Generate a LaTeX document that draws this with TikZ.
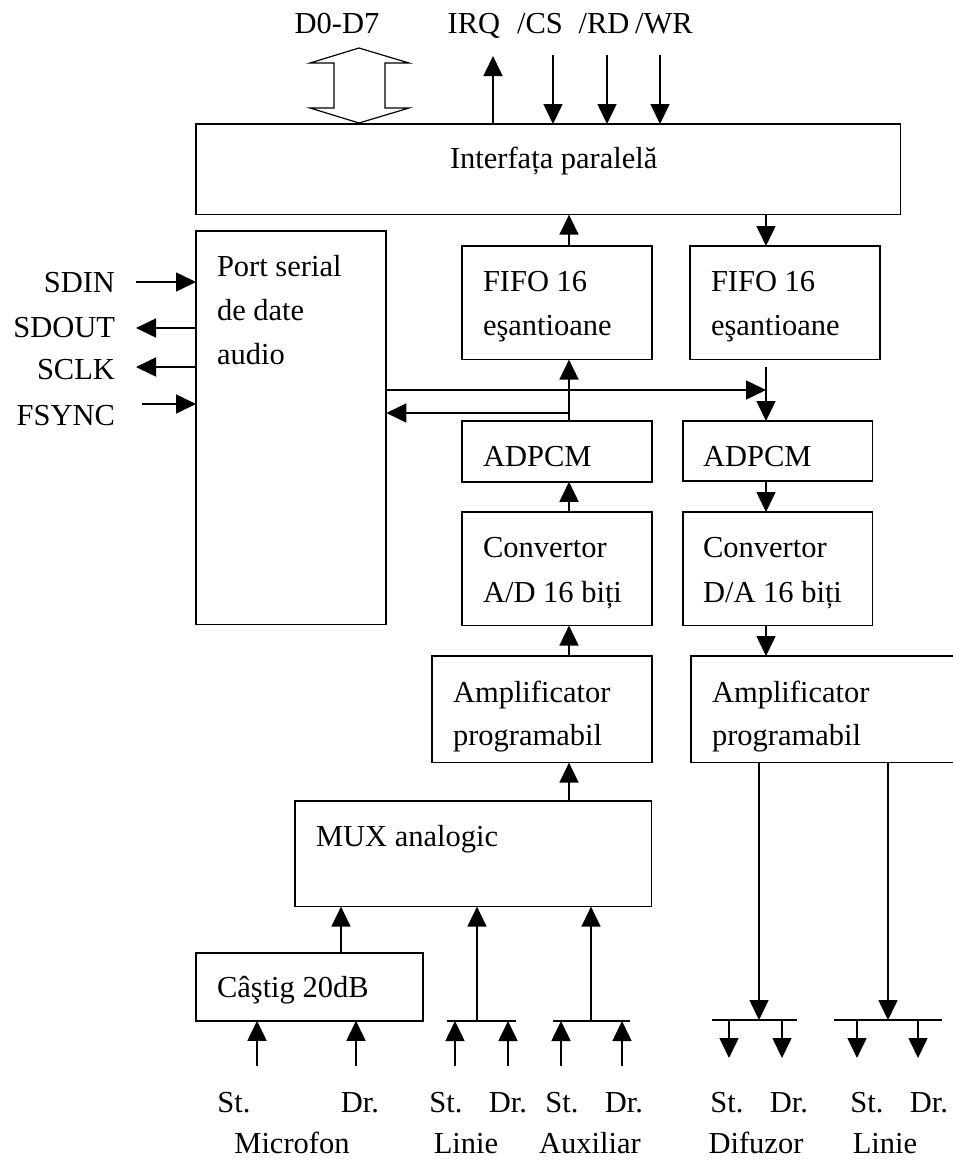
\documentclass[tikz,border=0pt]{standalone}
\usepackage{fontspec}
\setmainfont{Liberation Serif}
\usetikzlibrary{arrows.meta,calc}

\begin{document}
\begin{tikzpicture}[x=1bp,y=-1bp,
  every node/.style={inner sep=0pt,outer sep=0pt},
  blk/.style={draw,line width=1.6bp,anchor=north west,rectangle},
  txt/.style={font=\fontsize{30.5bp}{44bp}\selectfont,anchor=base west},
  lbl/.style={font=\fontsize{30.5bp}{44bp}\selectfont,anchor=base},
  wire/.style={line width=1.6bp},
  arr/.style={line width=1.6bp,-{Triangle[length=20bp,width=19bp]}},
]
\useasboundingbox (0,0) rectangle (953,1160);
\clip (0,0) rectangle (953,1160);

% helper to place a box from its corners
\newcommand{\blockat}[5]{%
  \node[blk,minimum width={#4-#2},minimum height={#5-#3}] (#1) at (#2,#3) {};}

% ---- blocks ----
\blockat{iface}{196}{124}{903}{215}
\blockat{port}{196}{231}{387}{626}
\blockat{fifoL}{462}{246}{653}{360}
\blockat{fifoR}{690}{246}{881}{360}
\blockat{adpcmL}{462}{421}{653}{482}
\blockat{adpcmR}{683}{421}{873}{481}
\blockat{adc}{462}{512}{653}{626}
\blockat{dac}{683}{512}{873}{626}
\blockat{ampL}{432}{656}{653}{763}
\blockat{ampR}{691}{656}{965}{763}
\blockat{mux}{295}{801}{653}{907}
\blockat{gain}{196}{953}{424}{1021}

% ---- block texts ----
\node[txt] (tIface) at (450,168) {Interfața paralelă};
\node[txt] (tPort1) at (217,276) {Port serial};
\node[txt] (tPort2) at (217,320) {de date};
\node[txt] (tPort3) at (217,364) {audio};
\node[txt] (tFifoL1) at (483,291) {FIFO 16};
\node[txt] (tFifoL2) at (483,335) {eşantioane};
\node[txt] (tFifoR1) at (711,291) {FIFO 16};
\node[txt] (tFifoR2) at (711,335) {eşantioane};
\node[txt] (tAdpcmL) at (483,466) {ADPCM};
\node[txt] (tAdpcmR) at (703,466) {ADPCM};
\node[txt] (tAdc1) at (483,557) {Convertor};
\node[txt] (tAdc2) at (483,602) {A/D 16 biți};
\node[txt] (tDac1) at (703,557) {Convertor};
\node[txt] (tDac2) at (703,602) {D/A 16 biți};
\node[txt] (tAmpL1) at (453,702) {Amplificator};
\node[txt] (tAmpL2) at (453,745) {programabil};
\node[txt] (tAmpR1) at (712,702) {Amplificator};
\node[txt] (tAmpR2) at (712,745) {programabil};
\node[txt] (tMux) at (316,846) {MUX analogic};
\node[txt] (tGain) at (217,997) {Câştig 20dB};

% ---- column guides ----
\coordinate (colL) at (569,0);
\coordinate (colR) at (766,0);

% ---- parallel bus (top) ----
\draw[line width=1.2bp,line join=miter]
  (359,48) -- (310,63) -- (334,63) -- (334,108) -- (310,108) -- (359,123)
  -- (409,108) -- (385,108) -- (385,63) -- (409,63) -- cycle;
\node[lbl] (lD) at (337,33) {D0-D7};
\node[lbl] (lIRQ) at (474,33) {IRQ};
\node[lbl] (lCS) at (540,33) {/CS};
\node[lbl] (lRD) at (604,33) {/RD};
\node[lbl] (lWR) at (664,33) {/WR};
\coordinate (irqEnd) at (493,56);
\coordinate (csStart) at (553,55);
\coordinate (rdStart) at (607,55);
\coordinate (wrStart) at (660,55);
\draw[arr] (iface.north -| irqEnd) -- (irqEnd);
\draw[arr] (csStart) -- (iface.north -| csStart);
\draw[arr] (rdStart) -- (iface.north -| rdStart);
\draw[arr] (wrStart) -- (iface.north -| wrStart);

% ---- serial port signals ----
\node[txt,anchor=base east] (lSDIN) at (115,292) {SDIN};
\node[txt,anchor=base east] (lSDOUT) at (115,337) {SDOUT};
\node[txt,anchor=base east] (lSCLK) at (115,379) {SCLK};
\node[txt,anchor=base east] (lFSYNC) at (115,425) {FSYNC};
\coordinate (sdin) at (136,282);
\coordinate (sdout) at (136,328);
\coordinate (sclk) at (136,367);
\coordinate (fsync) at (142,404);
\draw[arr] (sdin) -- (port.west |- sdin);
\draw[arr] (port.west |- sdout) -- (sdout);
\draw[arr] (port.west |- sclk) -- (sclk);
\draw[arr] (fsync) -- (port.west |- fsync);

% ---- record path (left column) ----
\draw[arr] (fifoL.north -| colL) -- (iface.south -| colL);
\draw[arr] (adpcmL.north -| colL) -- (fifoL.south -| colL);
\draw[arr] (adc.north -| colL) -- (adpcmL.south -| colL);
\draw[arr] (ampL.north -| colL) -- (adc.south -| colL);
\draw[arr] (mux.north -| colL) -- (ampL.south -| colL);
\coordinate (tapL) at (569,413);
\draw[arr] (tapL) -- (port.east |- tapL);

% ---- playback path (right column) ----
\draw[arr] (iface.south -| colR) -- (fifoR.north -| colR);
\coordinate (tapR) at (766,390);
\draw[arr] (port.east |- tapR) -- (tapR);
\draw[arr,shorten <=7bp] (fifoR.south -| colR) -- (adpcmR.north -| colR);
\draw[arr] (adpcmR.south -| colR) -- (dac.north -| colR);
\draw[arr] (dac.south -| colR) -- (ampR.north -| colR);

% ---- analog inputs ----
\coordinate (gainIn) at (341,0);
\draw[arr] (gain.north -| gainIn) -- (mux.south -| gainIn);

\coordinate (linJ) at (477,1021);
\coordinate (auxJ) at (591,1021);
\draw[wire] (447,1021) -- (516,1021);
\draw[wire] (553,1021) -- (630,1021);
\draw[arr] (linJ) -- (mux.south -| linJ);
\draw[arr] (auxJ) -- (mux.south -| auxJ);

\coordinate (inMicS) at (257,1066);
\coordinate (inMicD) at (356,1066);
\coordinate (inLinS) at (455,1066);
\coordinate (inLinD) at (508,1066);
\coordinate (inAuxS) at (561,1066);
\coordinate (inAuxD) at (622,1066);
\draw[arr] (inMicS) -- (gain.south -| inMicS);
\draw[arr] (inMicD) -- (gain.south -| inMicD);
\draw[arr] (inLinS) -- (inLinS |- linJ);
\draw[arr] (inLinD) -- (inLinD |- linJ);
\draw[arr] (inAuxS) -- (inAuxS |- auxJ);
\draw[arr] (inAuxD) -- (inAuxD |- auxJ);

% ---- analog outputs ----
\coordinate (spkJ) at (759,1020);
\coordinate (lineJ) at (888,1020);
\draw[arr] (ampR.south -| spkJ) -- (spkJ);
\draw[arr] (ampR.south -| lineJ) -- (lineJ);
\draw[wire] (712,1020) -- (797,1020);
\draw[wire] (834,1020) -- (942,1020);
\coordinate (outSpkS) at (729,1058);
\coordinate (outSpkD) at (782,1058);
\coordinate (outLinS) at (857,1058);
\coordinate (outLinD) at (918,1058);
\draw[arr] (outSpkS |- spkJ) -- (outSpkS);
\draw[arr] (outSpkD |- spkJ) -- (outSpkD);
\draw[arr] (outLinS |- lineJ) -- (outLinS);
\draw[arr] (outLinD |- lineJ) -- (outLinD);

% ---- channel labels ----
\node[lbl] (sMic) at (234,1112) {St.};
\node[lbl] (dMic) at (360,1112) {Dr.};
\node[lbl] (sLin) at (446,1112) {St.};
\node[lbl] (dLin) at (508,1112) {Dr.};
\node[lbl] (sAux) at (562,1112) {St.};
\node[lbl] (dAux) at (624,1112) {Dr.};
\node[lbl] (sSpk) at (727,1112) {St.};
\node[lbl] (dSpk) at (789,1112) {Dr.};
\node[lbl] (sLo) at (867,1112) {St.};
\node[lbl] (dLo) at (929,1112) {Dr.};
\node[lbl] (nMic) at (292,1153) {Microfon};
\node[lbl] (nLin) at (466,1153) {Linie};
\node[lbl] (nAux) at (590,1153) {Auxiliar};
\node[lbl] (nSpk) at (756,1153) {Difuzor};
\node[lbl] (nLo) at (885,1153) {Linie};
\end{tikzpicture}
\end{document}
